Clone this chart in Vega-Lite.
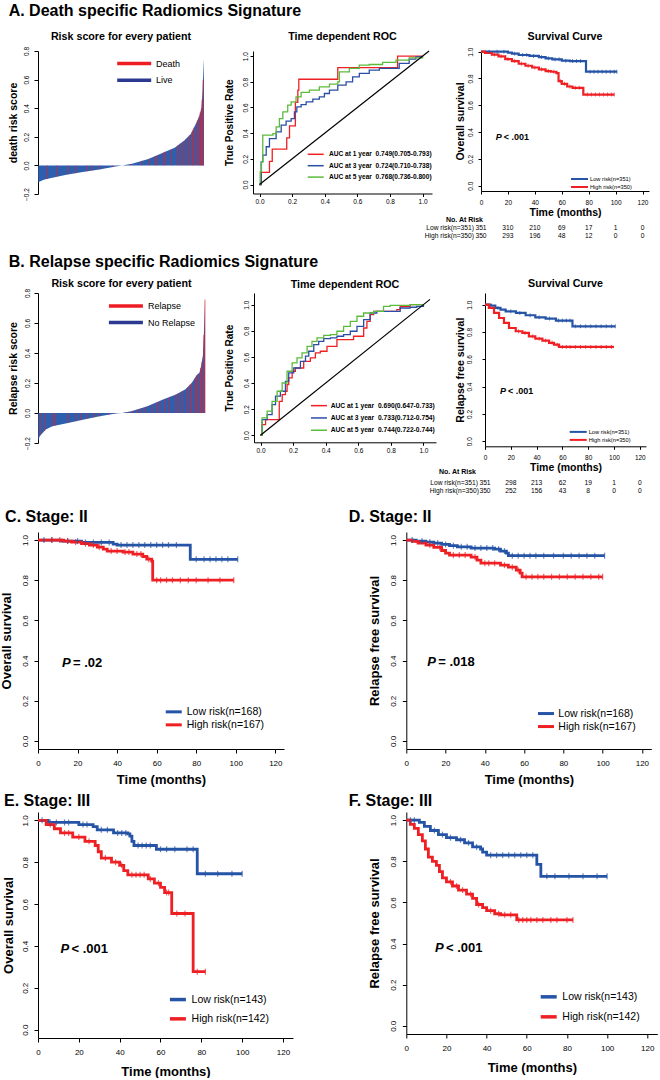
{
  "$schema": "https://vega.github.io/schema/vega-lite/v6.json",
  "padding": {"left": 0, "top": 2, "right": 0, "bottom": 0},
  "config": {
    "font": "Liberation Sans",
    "view": {"stroke": null},
    "axis": {"grid": false, "domainColor": "#000", "tickColor": "#000", "labelColor": "#000", "titleColor": "#000", "labelFont": "Liberation Sans", "titleFont": "Liberation Sans", "titleFontWeight": "bold", "labelFlush": false, "labelOverlap": false, "tickCount": 20},
    "axisY": {"labelAngle": 270, "labelAlign": "center", "labelBaseline": "bottom"},
    "legend": {"labelFont": "Liberation Sans", "labelColor": "#000", "padding": 0, "symbolOpacity": 1},
    "title": {"font": "Liberation Sans", "fontWeight": "bold", "color": "#000"}
  },
  "datasets": {
    "riskA": [{"rank":1,"score":-0.118},{"rank":24,"score":-0.1},{"rank":51,"score":-0.09},{"rank":120,"score":-0.065},{"rank":189,"score":-0.047},{"rank":259,"score":-0.028},{"rank":328,"score":-0.008},{"rank":355,"score":0},{"rank":397,"score":0.012},{"rank":466,"score":0.045},{"rank":535,"score":0.094},{"rank":577,"score":0.124},{"rank":618,"score":0.175},{"rank":646,"score":0.222},{"rank":666,"score":0.29},{"rank":680,"score":0.34},{"rank":690,"score":0.4},{"rank":695,"score":0.52},{"rank":699,"score":0.68},{"rank":701,"score":0.75}],
    "riskAev": [{"rank":40,"score":-0.094,"status":"Death"},{"rank":79,"score":-0.08,"status":"Death"},{"rank":127,"score":-0.063,"status":"Death"},{"rank":160,"score":-0.055,"status":"Death"},{"rank":206,"score":-0.042,"status":"Death"},{"rank":228,"score":-0.036,"status":"Death"},{"rank":260,"score":-0.028,"status":"Death"},{"rank":314,"score":-0.012,"status":"Death"},{"rank":390,"score":0.01,"status":"Death"},{"rank":438,"score":0.032,"status":"Death"},{"rank":470,"score":0.047,"status":"Death"},{"rank":494,"score":0.064,"status":"Death"},{"rank":505,"score":0.072,"status":"Death"},{"rank":531,"score":0.091,"status":"Death"},{"rank":539,"score":0.097,"status":"Death"},{"rank":563,"score":0.114,"status":"Death"},{"rank":590,"score":0.14,"status":"Death"},{"rank":600,"score":0.152,"status":"Death"},{"rank":611,"score":0.166,"status":"Death"},{"rank":625,"score":0.186,"status":"Death"},{"rank":639,"score":0.21,"status":"Death"},{"rank":650,"score":0.235,"status":"Death"},{"rank":655,"score":0.25,"status":"Death"},{"rank":659,"score":0.265,"status":"Death"},{"rank":673,"score":0.315,"status":"Death"},{"rank":680,"score":0.34,"status":"Death"},{"rank":685,"score":0.37,"status":"Death"},{"rank":690,"score":0.4,"status":"Death"},{"rank":693,"score":0.46,"status":"Death"},{"rank":697,"score":0.6,"status":"Death"}],
    "riskB": [{"rank":1,"score":-0.19},{"rank":7,"score":-0.155},{"rank":33,"score":-0.11},{"rank":60,"score":-0.089},{"rank":126,"score":-0.067},{"rank":193,"score":-0.044},{"rank":259,"score":-0.022},{"rank":326,"score":-0.004},{"rank":352,"score":0},{"rank":392,"score":0.011},{"rank":459,"score":0.045},{"rank":525,"score":0.09},{"rank":579,"score":0.124},{"rank":619,"score":0.158},{"rank":645,"score":0.2},{"rank":665,"score":0.25},{"rank":678,"score":0.27},{"rank":685,"score":0.316},{"rank":692,"score":0.384},{"rank":696,"score":0.52},{"rank":701,"score":0.757}],
    "riskBev": [{"rank":9,"score":-0.15,"status":"Relapse"},{"rank":27,"score":-0.12,"status":"Relapse"},{"rank":60,"score":-0.089,"status":"Relapse"},{"rank":73,"score":-0.085,"status":"Relapse"},{"rank":126,"score":-0.067,"status":"Relapse"},{"rank":160,"score":-0.055,"status":"Relapse"},{"rank":180,"score":-0.048,"status":"Relapse"},{"rank":209,"score":-0.039,"status":"Relapse"},{"rank":235,"score":-0.03,"status":"Relapse"},{"rank":259,"score":-0.022,"status":"Relapse"},{"rank":299,"score":-0.011,"status":"Relapse"},{"rank":323,"score":-0.005,"status":"Relapse"},{"rank":366,"score":0.004,"status":"Relapse"},{"rank":386,"score":0.009,"status":"Relapse"},{"rank":399,"score":0.015,"status":"Relapse"},{"rank":419,"score":0.025,"status":"Relapse"},{"rank":432,"score":0.031,"status":"Relapse"},{"rank":452,"score":0.041,"status":"Relapse"},{"rank":479,"score":0.058,"status":"Relapse"},{"rank":499,"score":0.072,"status":"Relapse"},{"rank":512,"score":0.081,"status":"Relapse"},{"rank":532,"score":0.094,"status":"Relapse"},{"rank":552,"score":0.107,"status":"Relapse"},{"rank":579,"score":0.124,"status":"Relapse"},{"rank":589,"score":0.132,"status":"Relapse"},{"rank":605,"score":0.146,"status":"Relapse"},{"rank":625,"score":0.167,"status":"Relapse"},{"rank":638,"score":0.19,"status":"Relapse"},{"rank":645,"score":0.2,"status":"Relapse"},{"rank":658,"score":0.23,"status":"Relapse"},{"rank":665,"score":0.25,"status":"Relapse"},{"rank":672,"score":0.26,"status":"Relapse"},{"rank":682,"score":0.3,"status":"Relapse"},{"rank":688,"score":0.34,"status":"Relapse"},{"rank":696,"score":0.52,"status":"Relapse"},{"rank":701,"score":0.757,"status":"Relapse"}],
    "rocA": [
      {"fpr":0,"tpr":0,"c":"AUC at 1 year\u00a0 0.749(0.705-0.793)"},{"fpr":0.01,"tpr":0.094,"c":"AUC at 1 year\u00a0 0.749(0.705-0.793)"},{"fpr":0.061,"tpr":0.18,"c":"AUC at 1 year\u00a0 0.749(0.705-0.793)"},{"fpr":0.078,"tpr":0.275,"c":"AUC at 1 year\u00a0 0.749(0.705-0.793)"},{"fpr":0.167,"tpr":0.364,"c":"AUC at 1 year\u00a0 0.749(0.705-0.793)"},{"fpr":0.184,"tpr":0.457,"c":"AUC at 1 year\u00a0 0.749(0.705-0.793)"},{"fpr":0.22,"tpr":0.64,"c":"AUC at 1 year\u00a0 0.749(0.705-0.793)"},{"fpr":0.235,"tpr":0.735,"c":"AUC at 1 year\u00a0 0.749(0.705-0.793)"},{"fpr":0.241,"tpr":0.82,"c":"AUC at 1 year\u00a0 0.749(0.705-0.793)"},{"fpr":0.48,"tpr":0.91,"c":"AUC at 1 year\u00a0 0.749(0.705-0.793)"},{"fpr":0.847,"tpr":1,"c":"AUC at 1 year\u00a0 0.749(0.705-0.793)"},{"fpr":1,"tpr":1,"c":"AUC at 1 year\u00a0 0.749(0.705-0.793)"},
      {"fpr":0,"tpr":0,"c":"AUC at 3 year\u00a0 0.724(0.710-0.738)"},{"fpr":0.01,"tpr":0.177,"c":"AUC at 3 year\u00a0 0.724(0.710-0.738)"},{"fpr":0.02,"tpr":0.229,"c":"AUC at 3 year\u00a0 0.724(0.710-0.738)"},{"fpr":0.041,"tpr":0.294,"c":"AUC at 3 year\u00a0 0.724(0.710-0.738)"},{"fpr":0.061,"tpr":0.358,"c":"AUC at 3 year\u00a0 0.724(0.710-0.738)"},{"fpr":0.102,"tpr":0.41,"c":"AUC at 3 year\u00a0 0.724(0.710-0.738)"},{"fpr":0.133,"tpr":0.462,"c":"AUC at 3 year\u00a0 0.724(0.710-0.738)"},{"fpr":0.163,"tpr":0.494,"c":"AUC at 3 year\u00a0 0.724(0.710-0.738)"},{"fpr":0.194,"tpr":0.514,"c":"AUC at 3 year\u00a0 0.724(0.710-0.738)"},{"fpr":0.214,"tpr":0.566,"c":"AUC at 3 year\u00a0 0.724(0.710-0.738)"},{"fpr":0.229,"tpr":0.605,"c":"AUC at 3 year\u00a0 0.724(0.710-0.738)"},{"fpr":0.255,"tpr":0.623,"c":"AUC at 3 year\u00a0 0.724(0.710-0.738)"},{"fpr":0.286,"tpr":0.644,"c":"AUC at 3 year\u00a0 0.724(0.710-0.738)"},{"fpr":0.327,"tpr":0.665,"c":"AUC at 3 year\u00a0 0.724(0.710-0.738)"},{"fpr":0.367,"tpr":0.683,"c":"AUC at 3 year\u00a0 0.724(0.710-0.738)"},{"fpr":0.398,"tpr":0.709,"c":"AUC at 3 year\u00a0 0.724(0.710-0.738)"},{"fpr":0.429,"tpr":0.735,"c":"AUC at 3 year\u00a0 0.724(0.710-0.738)"},{"fpr":0.48,"tpr":0.774,"c":"AUC at 3 year\u00a0 0.724(0.710-0.738)"},{"fpr":0.531,"tpr":0.8,"c":"AUC at 3 year\u00a0 0.724(0.710-0.738)"},{"fpr":0.571,"tpr":0.839,"c":"AUC at 3 year\u00a0 0.724(0.710-0.738)"},{"fpr":0.612,"tpr":0.865,"c":"AUC at 3 year\u00a0 0.724(0.710-0.738)"},{"fpr":0.673,"tpr":0.891,"c":"AUC at 3 year\u00a0 0.724(0.710-0.738)"},{"fpr":0.735,"tpr":0.904,"c":"AUC at 3 year\u00a0 0.724(0.710-0.738)"},{"fpr":0.857,"tpr":0.943,"c":"AUC at 3 year\u00a0 0.724(0.710-0.738)"},{"fpr":0.918,"tpr":0.977,"c":"AUC at 3 year\u00a0 0.724(0.710-0.738)"},{"fpr":0.959,"tpr":0.995,"c":"AUC at 3 year\u00a0 0.724(0.710-0.738)"},{"fpr":1,"tpr":1,"c":"AUC at 3 year\u00a0 0.724(0.710-0.738)"},
      {"fpr":0,"tpr":0,"c":"AUC at 5 year\u00a0 0.768(0.736-0.800)"},{"fpr":0.004,"tpr":0.099,"c":"AUC at 5 year\u00a0 0.768(0.736-0.800)"},{"fpr":0.012,"tpr":0.177,"c":"AUC at 5 year\u00a0 0.768(0.736-0.800)"},{"fpr":0.02,"tpr":0.384,"c":"AUC at 5 year\u00a0 0.768(0.736-0.800)"},{"fpr":0.082,"tpr":0.397,"c":"AUC at 5 year\u00a0 0.768(0.736-0.800)"},{"fpr":0.102,"tpr":0.449,"c":"AUC at 5 year\u00a0 0.768(0.736-0.800)"},{"fpr":0.122,"tpr":0.514,"c":"AUC at 5 year\u00a0 0.768(0.736-0.800)"},{"fpr":0.143,"tpr":0.566,"c":"AUC at 5 year\u00a0 0.768(0.736-0.800)"},{"fpr":0.173,"tpr":0.618,"c":"AUC at 5 year\u00a0 0.768(0.736-0.800)"},{"fpr":0.194,"tpr":0.644,"c":"AUC at 5 year\u00a0 0.768(0.736-0.800)"},{"fpr":0.224,"tpr":0.683,"c":"AUC at 5 year\u00a0 0.768(0.736-0.800)"},{"fpr":0.255,"tpr":0.717,"c":"AUC at 5 year\u00a0 0.768(0.736-0.800)"},{"fpr":0.306,"tpr":0.735,"c":"AUC at 5 year\u00a0 0.768(0.736-0.800)"},{"fpr":0.367,"tpr":0.761,"c":"AUC at 5 year\u00a0 0.768(0.736-0.800)"},{"fpr":0.429,"tpr":0.782,"c":"AUC at 5 year\u00a0 0.768(0.736-0.800)"},{"fpr":0.48,"tpr":0.8,"c":"AUC at 5 year\u00a0 0.768(0.736-0.800)"},{"fpr":0.49,"tpr":0.878,"c":"AUC at 5 year\u00a0 0.768(0.736-0.800)"},{"fpr":0.551,"tpr":0.904,"c":"AUC at 5 year\u00a0 0.768(0.736-0.800)"},{"fpr":0.612,"tpr":0.93,"c":"AUC at 5 year\u00a0 0.768(0.736-0.800)"},{"fpr":0.673,"tpr":0.935,"c":"AUC at 5 year\u00a0 0.768(0.736-0.800)"},{"fpr":0.755,"tpr":0.951,"c":"AUC at 5 year\u00a0 0.768(0.736-0.800)"},{"fpr":0.837,"tpr":0.969,"c":"AUC at 5 year\u00a0 0.768(0.736-0.800)"},{"fpr":0.918,"tpr":0.987,"c":"AUC at 5 year\u00a0 0.768(0.736-0.800)"},{"fpr":1,"tpr":1,"c":"AUC at 5 year\u00a0 0.768(0.736-0.800)"}
    ],
    "rocB": [
      {"fpr":0,"tpr":0,"c":"AUC at 1 year\u00a0 0.690(0.647-0.733)"},{"fpr":0.01,"tpr":0.082,"c":"AUC at 1 year\u00a0 0.690(0.647-0.733)"},{"fpr":0.031,"tpr":0.12,"c":"AUC at 1 year\u00a0 0.690(0.647-0.733)"},{"fpr":0.115,"tpr":0.26,"c":"AUC at 1 year\u00a0 0.690(0.647-0.733)"},{"fpr":0.133,"tpr":0.311,"c":"AUC at 1 year\u00a0 0.690(0.647-0.733)"},{"fpr":0.153,"tpr":0.337,"c":"AUC at 1 year\u00a0 0.690(0.647-0.733)"},{"fpr":0.163,"tpr":0.388,"c":"AUC at 1 year\u00a0 0.690(0.647-0.733)"},{"fpr":0.173,"tpr":0.439,"c":"AUC at 1 year\u00a0 0.690(0.647-0.733)"},{"fpr":0.194,"tpr":0.49,"c":"AUC at 1 year\u00a0 0.690(0.647-0.733)"},{"fpr":0.214,"tpr":0.515,"c":"AUC at 1 year\u00a0 0.690(0.647-0.733)"},{"fpr":0.265,"tpr":0.566,"c":"AUC at 1 year\u00a0 0.690(0.647-0.733)"},{"fpr":0.306,"tpr":0.592,"c":"AUC at 1 year\u00a0 0.690(0.647-0.733)"},{"fpr":0.337,"tpr":0.63,"c":"AUC at 1 year\u00a0 0.690(0.647-0.733)"},{"fpr":0.367,"tpr":0.643,"c":"AUC at 1 year\u00a0 0.690(0.647-0.733)"},{"fpr":0.408,"tpr":0.681,"c":"AUC at 1 year\u00a0 0.690(0.647-0.733)"},{"fpr":0.469,"tpr":0.732,"c":"AUC at 1 year\u00a0 0.690(0.647-0.733)"},{"fpr":0.571,"tpr":0.758,"c":"AUC at 1 year\u00a0 0.690(0.647-0.733)"},{"fpr":0.633,"tpr":0.821,"c":"AUC at 1 year\u00a0 0.690(0.647-0.733)"},{"fpr":0.653,"tpr":0.872,"c":"AUC at 1 year\u00a0 0.690(0.647-0.733)"},{"fpr":0.673,"tpr":0.923,"c":"AUC at 1 year\u00a0 0.690(0.647-0.733)"},{"fpr":0.694,"tpr":0.949,"c":"AUC at 1 year\u00a0 0.690(0.647-0.733)"},{"fpr":0.837,"tpr":0.962,"c":"AUC at 1 year\u00a0 0.690(0.647-0.733)"},{"fpr":0.857,"tpr":0.987,"c":"AUC at 1 year\u00a0 0.690(0.647-0.733)"},{"fpr":0.918,"tpr":1,"c":"AUC at 1 year\u00a0 0.690(0.647-0.733)"},{"fpr":1,"tpr":1,"c":"AUC at 1 year\u00a0 0.690(0.647-0.733)"},
      {"fpr":0,"tpr":0,"c":"AUC at 3 year\u00a0 0.733(0.712-0.754)"},{"fpr":0.01,"tpr":0.12,"c":"AUC at 3 year\u00a0 0.733(0.712-0.754)"},{"fpr":0.041,"tpr":0.158,"c":"AUC at 3 year\u00a0 0.733(0.712-0.754)"},{"fpr":0.071,"tpr":0.235,"c":"AUC at 3 year\u00a0 0.733(0.712-0.754)"},{"fpr":0.092,"tpr":0.3,"c":"AUC at 3 year\u00a0 0.733(0.712-0.754)"},{"fpr":0.122,"tpr":0.337,"c":"AUC at 3 year\u00a0 0.733(0.712-0.754)"},{"fpr":0.153,"tpr":0.413,"c":"AUC at 3 year\u00a0 0.733(0.712-0.754)"},{"fpr":0.173,"tpr":0.477,"c":"AUC at 3 year\u00a0 0.733(0.712-0.754)"},{"fpr":0.204,"tpr":0.515,"c":"AUC at 3 year\u00a0 0.733(0.712-0.754)"},{"fpr":0.245,"tpr":0.566,"c":"AUC at 3 year\u00a0 0.733(0.712-0.754)"},{"fpr":0.276,"tpr":0.605,"c":"AUC at 3 year\u00a0 0.733(0.712-0.754)"},{"fpr":0.296,"tpr":0.643,"c":"AUC at 3 year\u00a0 0.733(0.712-0.754)"},{"fpr":0.327,"tpr":0.694,"c":"AUC at 3 year\u00a0 0.733(0.712-0.754)"},{"fpr":0.357,"tpr":0.719,"c":"AUC at 3 year\u00a0 0.733(0.712-0.754)"},{"fpr":0.388,"tpr":0.74,"c":"AUC at 3 year\u00a0 0.733(0.712-0.754)"},{"fpr":0.429,"tpr":0.745,"c":"AUC at 3 year\u00a0 0.733(0.712-0.754)"},{"fpr":0.469,"tpr":0.758,"c":"AUC at 3 year\u00a0 0.733(0.712-0.754)"},{"fpr":0.51,"tpr":0.77,"c":"AUC at 3 year\u00a0 0.733(0.712-0.754)"},{"fpr":0.551,"tpr":0.796,"c":"AUC at 3 year\u00a0 0.733(0.712-0.754)"},{"fpr":0.592,"tpr":0.834,"c":"AUC at 3 year\u00a0 0.733(0.712-0.754)"},{"fpr":0.633,"tpr":0.885,"c":"AUC at 3 year\u00a0 0.733(0.712-0.754)"},{"fpr":0.673,"tpr":0.936,"c":"AUC at 3 year\u00a0 0.733(0.712-0.754)"},{"fpr":0.714,"tpr":0.949,"c":"AUC at 3 year\u00a0 0.733(0.712-0.754)"},{"fpr":0.857,"tpr":0.974,"c":"AUC at 3 year\u00a0 0.733(0.712-0.754)"},{"fpr":0.918,"tpr":0.98,"c":"AUC at 3 year\u00a0 0.733(0.712-0.754)"},{"fpr":0.959,"tpr":0.987,"c":"AUC at 3 year\u00a0 0.733(0.712-0.754)"},{"fpr":1,"tpr":1,"c":"AUC at 3 year\u00a0 0.733(0.712-0.754)"},
      {"fpr":0,"tpr":0,"c":"AUC at 5 year\u00a0 0.744(0.722-0.744)"},{"fpr":0.01,"tpr":0.133,"c":"AUC at 5 year\u00a0 0.744(0.722-0.744)"},{"fpr":0.041,"tpr":0.184,"c":"AUC at 5 year\u00a0 0.744(0.722-0.744)"},{"fpr":0.071,"tpr":0.26,"c":"AUC at 5 year\u00a0 0.744(0.722-0.744)"},{"fpr":0.102,"tpr":0.337,"c":"AUC at 5 year\u00a0 0.744(0.722-0.744)"},{"fpr":0.133,"tpr":0.4,"c":"AUC at 5 year\u00a0 0.744(0.722-0.744)"},{"fpr":0.163,"tpr":0.49,"c":"AUC at 5 year\u00a0 0.744(0.722-0.744)"},{"fpr":0.194,"tpr":0.554,"c":"AUC at 5 year\u00a0 0.744(0.722-0.744)"},{"fpr":0.224,"tpr":0.592,"c":"AUC at 5 year\u00a0 0.744(0.722-0.744)"},{"fpr":0.255,"tpr":0.63,"c":"AUC at 5 year\u00a0 0.744(0.722-0.744)"},{"fpr":0.286,"tpr":0.681,"c":"AUC at 5 year\u00a0 0.744(0.722-0.744)"},{"fpr":0.316,"tpr":0.719,"c":"AUC at 5 year\u00a0 0.744(0.722-0.744)"},{"fpr":0.347,"tpr":0.745,"c":"AUC at 5 year\u00a0 0.744(0.722-0.744)"},{"fpr":0.388,"tpr":0.765,"c":"AUC at 5 year\u00a0 0.744(0.722-0.744)"},{"fpr":0.429,"tpr":0.77,"c":"AUC at 5 year\u00a0 0.744(0.722-0.744)"},{"fpr":0.469,"tpr":0.796,"c":"AUC at 5 year\u00a0 0.744(0.722-0.744)"},{"fpr":0.51,"tpr":0.834,"c":"AUC at 5 year\u00a0 0.744(0.722-0.744)"},{"fpr":0.551,"tpr":0.872,"c":"AUC at 5 year\u00a0 0.744(0.722-0.744)"},{"fpr":0.592,"tpr":0.911,"c":"AUC at 5 year\u00a0 0.744(0.722-0.744)"},{"fpr":0.633,"tpr":0.936,"c":"AUC at 5 year\u00a0 0.744(0.722-0.744)"},{"fpr":0.694,"tpr":0.949,"c":"AUC at 5 year\u00a0 0.744(0.722-0.744)"},{"fpr":0.755,"tpr":0.987,"c":"AUC at 5 year\u00a0 0.744(0.722-0.744)"},{"fpr":0.796,"tpr":0.995,"c":"AUC at 5 year\u00a0 0.744(0.722-0.744)"},{"fpr":0.918,"tpr":1,"c":"AUC at 5 year\u00a0 0.744(0.722-0.744)"},{"fpr":1,"tpr":1,"c":"AUC at 5 year\u00a0 0.744(0.722-0.744)"}
    ],
    "kmA": [
      {"t":0,"s":1,"g":"Low risk(n=351)"},{"t":20,"s":0.993,"g":"Low risk(n=351)"},{"t":23,"s":0.985,"g":"Low risk(n=351)"},{"t":28,"s":0.975,"g":"Low risk(n=351)"},{"t":36,"s":0.968,"g":"Low risk(n=351)"},{"t":43,"s":0.96,"g":"Low risk(n=351)"},{"t":48,"s":0.95,"g":"Low risk(n=351)"},{"t":53,"s":0.943,"g":"Low risk(n=351)"},{"t":60,"s":0.933,"g":"Low risk(n=351)"},{"t":66,"s":0.93,"g":"Low risk(n=351)"},{"t":78,"s":0.851,"g":"Low risk(n=351)"},{"t":101,"s":0.851,"g":"Low risk(n=351)"},
      {"t":0,"s":1,"g":"High risk(n=350)"},{"t":3,"s":0.99,"g":"High risk(n=350)"},{"t":8,"s":0.978,"g":"High risk(n=350)"},{"t":13,"s":0.965,"g":"High risk(n=350)"},{"t":18,"s":0.945,"g":"High risk(n=350)"},{"t":23,"s":0.93,"g":"High risk(n=350)"},{"t":28,"s":0.91,"g":"High risk(n=350)"},{"t":33,"s":0.895,"g":"High risk(n=350)"},{"t":38,"s":0.882,"g":"High risk(n=350)"},{"t":43,"s":0.868,"g":"High risk(n=350)"},{"t":48,"s":0.855,"g":"High risk(n=350)"},{"t":52,"s":0.85,"g":"High risk(n=350)"},{"t":56,"s":0.84,"g":"High risk(n=350)"},{"t":57.6,"s":0.78,"g":"High risk(n=350)"},{"t":60,"s":0.76,"g":"High risk(n=350)"},{"t":64,"s":0.74,"g":"High risk(n=350)"},{"t":68,"s":0.73,"g":"High risk(n=350)"},{"t":76,"s":0.68,"g":"High risk(n=350)"},{"t":99,"s":0.68,"g":"High risk(n=350)"}
    ],
    "kmAc": [
      {"t":6,"s":1,"g":"Low risk(n=351)"},{"t":12,"s":1,"g":"Low risk(n=351)"},{"t":17,"s":1,"g":"Low risk(n=351)"},{"t":25,"s":0.985,"g":"Low risk(n=351)"},{"t":31,"s":0.975,"g":"Low risk(n=351)"},{"t":34,"s":0.975,"g":"Low risk(n=351)"},{"t":39,"s":0.968,"g":"Low risk(n=351)"},{"t":45,"s":0.96,"g":"Low risk(n=351)"},{"t":50,"s":0.95,"g":"Low risk(n=351)"},{"t":55,"s":0.943,"g":"Low risk(n=351)"},{"t":58,"s":0.943,"g":"Low risk(n=351)"},{"t":63,"s":0.933,"g":"Low risk(n=351)"},{"t":68,"s":0.93,"g":"Low risk(n=351)"},{"t":71,"s":0.93,"g":"Low risk(n=351)"},{"t":74,"s":0.93,"g":"Low risk(n=351)"},{"t":81,"s":0.851,"g":"Low risk(n=351)"},{"t":84,"s":0.851,"g":"Low risk(n=351)"},{"t":87,"s":0.851,"g":"Low risk(n=351)"},{"t":90,"s":0.851,"g":"Low risk(n=351)"},{"t":93,"s":0.851,"g":"Low risk(n=351)"},{"t":96,"s":0.851,"g":"Low risk(n=351)"},{"t":99,"s":0.851,"g":"Low risk(n=351)"},{"t":101,"s":0.851,"g":"Low risk(n=351)"},
      {"t":10,"s":0.978,"g":"High risk(n=350)"},{"t":15,"s":0.965,"g":"High risk(n=350)"},{"t":20,"s":0.945,"g":"High risk(n=350)"},{"t":25,"s":0.93,"g":"High risk(n=350)"},{"t":30,"s":0.91,"g":"High risk(n=350)"},{"t":35,"s":0.895,"g":"High risk(n=350)"},{"t":40,"s":0.882,"g":"High risk(n=350)"},{"t":45,"s":0.868,"g":"High risk(n=350)"},{"t":50,"s":0.855,"g":"High risk(n=350)"},{"t":54,"s":0.85,"g":"High risk(n=350)"},{"t":59,"s":0.78,"g":"High risk(n=350)"},{"t":62,"s":0.76,"g":"High risk(n=350)"},{"t":66,"s":0.74,"g":"High risk(n=350)"},{"t":70,"s":0.73,"g":"High risk(n=350)"},{"t":73,"s":0.73,"g":"High risk(n=350)"},{"t":79,"s":0.68,"g":"High risk(n=350)"},{"t":82,"s":0.68,"g":"High risk(n=350)"},{"t":85,"s":0.68,"g":"High risk(n=350)"},{"t":88,"s":0.68,"g":"High risk(n=350)"},{"t":91,"s":0.68,"g":"High risk(n=350)"},{"t":94,"s":0.68,"g":"High risk(n=350)"},{"t":97,"s":0.68,"g":"High risk(n=350)"},{"t":99,"s":0.68,"g":"High risk(n=350)"}
    ],
    "kmB": [
      {"t":0,"s":1,"g":"Low risk(n=351)"},{"t":4.4,"s":0.993,"g":"Low risk(n=351)"},{"t":8,"s":0.976,"g":"Low risk(n=351)"},{"t":12,"s":0.963,"g":"Low risk(n=351)"},{"t":16,"s":0.951,"g":"Low risk(n=351)"},{"t":24,"s":0.939,"g":"Low risk(n=351)"},{"t":31.5,"s":0.922,"g":"Low risk(n=351)"},{"t":39,"s":0.907,"g":"Low risk(n=351)"},{"t":47,"s":0.898,"g":"Low risk(n=351)"},{"t":55,"s":0.883,"g":"Low risk(n=351)"},{"t":67.8,"s":0.841,"g":"Low risk(n=351)"},{"t":101,"s":0.841,"g":"Low risk(n=351)"},
      {"t":0,"s":1,"g":"High risk(n=350)"},{"t":3,"s":0.976,"g":"High risk(n=350)"},{"t":7,"s":0.939,"g":"High risk(n=350)"},{"t":10.9,"s":0.902,"g":"High risk(n=350)"},{"t":14.7,"s":0.866,"g":"High risk(n=350)"},{"t":18.6,"s":0.829,"g":"High risk(n=350)"},{"t":23.8,"s":0.805,"g":"High risk(n=350)"},{"t":29,"s":0.793,"g":"High risk(n=350)"},{"t":34,"s":0.768,"g":"High risk(n=350)"},{"t":39,"s":0.751,"g":"High risk(n=350)"},{"t":44.5,"s":0.737,"g":"High risk(n=350)"},{"t":49.7,"s":0.72,"g":"High risk(n=350)"},{"t":53.5,"s":0.707,"g":"High risk(n=350)"},{"t":57.4,"s":0.69,"g":"High risk(n=350)"},{"t":100,"s":0.69,"g":"High risk(n=350)"}
    ],
    "kmBc": [
      {"t":10,"s":0.976,"g":"Low risk(n=351)"},{"t":20,"s":0.951,"g":"Low risk(n=351)"},{"t":27,"s":0.939,"g":"Low risk(n=351)"},{"t":35,"s":0.922,"g":"Low risk(n=351)"},{"t":42,"s":0.907,"g":"Low risk(n=351)"},{"t":50,"s":0.898,"g":"Low risk(n=351)"},{"t":57,"s":0.883,"g":"Low risk(n=351)"},{"t":60,"s":0.883,"g":"Low risk(n=351)"},{"t":63,"s":0.883,"g":"Low risk(n=351)"},{"t":66,"s":0.883,"g":"Low risk(n=351)"},{"t":70,"s":0.841,"g":"Low risk(n=351)"},{"t":74,"s":0.841,"g":"Low risk(n=351)"},{"t":78,"s":0.841,"g":"Low risk(n=351)"},{"t":82,"s":0.841,"g":"Low risk(n=351)"},{"t":86,"s":0.841,"g":"Low risk(n=351)"},{"t":90,"s":0.841,"g":"Low risk(n=351)"},{"t":94,"s":0.841,"g":"Low risk(n=351)"},{"t":98,"s":0.841,"g":"Low risk(n=351)"},{"t":101,"s":0.841,"g":"Low risk(n=351)"},
      {"t":26,"s":0.805,"g":"High risk(n=350)"},{"t":31,"s":0.793,"g":"High risk(n=350)"},{"t":37,"s":0.768,"g":"High risk(n=350)"},{"t":42,"s":0.751,"g":"High risk(n=350)"},{"t":47,"s":0.737,"g":"High risk(n=350)"},{"t":52,"s":0.72,"g":"High risk(n=350)"},{"t":56,"s":0.707,"g":"High risk(n=350)"},{"t":60,"s":0.69,"g":"High risk(n=350)"},{"t":63,"s":0.69,"g":"High risk(n=350)"},{"t":66,"s":0.69,"g":"High risk(n=350)"},{"t":70,"s":0.69,"g":"High risk(n=350)"},{"t":74,"s":0.69,"g":"High risk(n=350)"},{"t":78,"s":0.69,"g":"High risk(n=350)"},{"t":82,"s":0.69,"g":"High risk(n=350)"},{"t":86,"s":0.69,"g":"High risk(n=350)"},{"t":90,"s":0.69,"g":"High risk(n=350)"},{"t":94,"s":0.69,"g":"High risk(n=350)"},{"t":98,"s":0.69,"g":"High risk(n=350)"}
    ],
    "kmC": [
      {"t":0,"s":1,"g":"Low risk(n=168)"},{"t":12,"s":0.995,"g":"Low risk(n=168)"},{"t":22,"s":0.988,"g":"Low risk(n=168)"},{"t":38,"s":0.98,"g":"Low risk(n=168)"},{"t":40,"s":0.975,"g":"Low risk(n=168)"},{"t":77,"s":0.904,"g":"Low risk(n=168)"},{"t":101,"s":0.904,"g":"Low risk(n=168)"},
      {"t":0,"s":1,"g":"High risk(n=167)"},{"t":13,"s":0.995,"g":"High risk(n=167)"},{"t":17,"s":0.99,"g":"High risk(n=167)"},{"t":22,"s":0.982,"g":"High risk(n=167)"},{"t":26,"s":0.975,"g":"High risk(n=167)"},{"t":30,"s":0.965,"g":"High risk(n=167)"},{"t":33,"s":0.955,"g":"High risk(n=167)"},{"t":35,"s":0.945,"g":"High risk(n=167)"},{"t":43,"s":0.94,"g":"High risk(n=167)"},{"t":48,"s":0.93,"g":"High risk(n=167)"},{"t":53,"s":0.918,"g":"High risk(n=167)"},{"t":55,"s":0.905,"g":"High risk(n=167)"},{"t":57.5,"s":0.895,"g":"High risk(n=167)"},{"t":58,"s":0.8,"g":"High risk(n=167)"},{"t":99,"s":0.8,"g":"High risk(n=167)"}
    ],
    "kmCc": [
      {"t":3,"s":1,"g":"Low risk(n=168)"},{"t":7,"s":1,"g":"Low risk(n=168)"},{"t":15,"s":0.995,"g":"Low risk(n=168)"},{"t":20,"s":0.995,"g":"Low risk(n=168)"},{"t":24,"s":0.988,"g":"Low risk(n=168)"},{"t":28,"s":0.988,"g":"Low risk(n=168)"},{"t":32,"s":0.988,"g":"Low risk(n=168)"},{"t":36,"s":0.988,"g":"Low risk(n=168)"},{"t":42,"s":0.975,"g":"Low risk(n=168)"},{"t":45,"s":0.975,"g":"Low risk(n=168)"},{"t":48,"s":0.975,"g":"Low risk(n=168)"},{"t":51,"s":0.975,"g":"Low risk(n=168)"},{"t":54,"s":0.975,"g":"Low risk(n=168)"},{"t":57,"s":0.975,"g":"Low risk(n=168)"},{"t":60,"s":0.975,"g":"Low risk(n=168)"},{"t":63,"s":0.975,"g":"Low risk(n=168)"},{"t":66,"s":0.975,"g":"Low risk(n=168)"},{"t":70,"s":0.975,"g":"Low risk(n=168)"},{"t":80,"s":0.904,"g":"Low risk(n=168)"},{"t":84,"s":0.904,"g":"Low risk(n=168)"},{"t":87,"s":0.904,"g":"Low risk(n=168)"},{"t":90,"s":0.904,"g":"Low risk(n=168)"},{"t":93,"s":0.904,"g":"Low risk(n=168)"},{"t":96,"s":0.904,"g":"Low risk(n=168)"},{"t":101,"s":0.904,"g":"Low risk(n=168)"},
      {"t":7,"s":1,"g":"High risk(n=167)"},{"t":11,"s":1,"g":"High risk(n=167)"},{"t":15,"s":0.995,"g":"High risk(n=167)"},{"t":19,"s":0.99,"g":"High risk(n=167)"},{"t":24,"s":0.982,"g":"High risk(n=167)"},{"t":28,"s":0.975,"g":"High risk(n=167)"},{"t":31,"s":0.965,"g":"High risk(n=167)"},{"t":37,"s":0.945,"g":"High risk(n=167)"},{"t":40,"s":0.945,"g":"High risk(n=167)"},{"t":44,"s":0.94,"g":"High risk(n=167)"},{"t":46,"s":0.94,"g":"High risk(n=167)"},{"t":50,"s":0.93,"g":"High risk(n=167)"},{"t":52,"s":0.93,"g":"High risk(n=167)"},{"t":56,"s":0.905,"g":"High risk(n=167)"},{"t":60,"s":0.8,"g":"High risk(n=167)"},{"t":62,"s":0.8,"g":"High risk(n=167)"},{"t":65,"s":0.8,"g":"High risk(n=167)"},{"t":68,"s":0.8,"g":"High risk(n=167)"},{"t":72,"s":0.8,"g":"High risk(n=167)"},{"t":76,"s":0.8,"g":"High risk(n=167)"},{"t":80,"s":0.8,"g":"High risk(n=167)"},{"t":86,"s":0.8,"g":"High risk(n=167)"},{"t":92,"s":0.8,"g":"High risk(n=167)"},{"t":99,"s":0.8,"g":"High risk(n=167)"}
    ],
    "kmD": [
      {"t":0,"s":1,"g":"Low risk(n=168)"},{"t":5,"s":0.995,"g":"Low risk(n=168)"},{"t":10,"s":0.99,"g":"Low risk(n=168)"},{"t":14,"s":0.985,"g":"Low risk(n=168)"},{"t":18,"s":0.978,"g":"Low risk(n=168)"},{"t":22,"s":0.972,"g":"Low risk(n=168)"},{"t":26,"s":0.966,"g":"Low risk(n=168)"},{"t":33,"s":0.96,"g":"Low risk(n=168)"},{"t":45,"s":0.955,"g":"Low risk(n=168)"},{"t":48,"s":0.945,"g":"Low risk(n=168)"},{"t":51,"s":0.935,"g":"Low risk(n=168)"},{"t":52,"s":0.922,"g":"Low risk(n=168)"},{"t":101,"s":0.922,"g":"Low risk(n=168)"},
      {"t":0,"s":1,"g":"High risk(n=167)"},{"t":3,"s":0.993,"g":"High risk(n=167)"},{"t":6,"s":0.985,"g":"High risk(n=167)"},{"t":10,"s":0.975,"g":"High risk(n=167)"},{"t":14,"s":0.963,"g":"High risk(n=167)"},{"t":18,"s":0.948,"g":"High risk(n=167)"},{"t":20,"s":0.935,"g":"High risk(n=167)"},{"t":22,"s":0.925,"g":"High risk(n=167)"},{"t":33,"s":0.915,"g":"High risk(n=167)"},{"t":36,"s":0.9,"g":"High risk(n=167)"},{"t":38,"s":0.885,"g":"High risk(n=167)"},{"t":48,"s":0.875,"g":"High risk(n=167)"},{"t":52,"s":0.865,"g":"High risk(n=167)"},{"t":56,"s":0.85,"g":"High risk(n=167)"},{"t":58,"s":0.835,"g":"High risk(n=167)"},{"t":59,"s":0.817,"g":"High risk(n=167)"},{"t":100,"s":0.817,"g":"High risk(n=167)"}
    ],
    "kmDc": [
      {"t":3,"s":1,"g":"Low risk(n=168)"},{"t":8,"s":0.995,"g":"Low risk(n=168)"},{"t":12,"s":0.99,"g":"Low risk(n=168)"},{"t":16,"s":0.985,"g":"Low risk(n=168)"},{"t":20,"s":0.978,"g":"Low risk(n=168)"},{"t":24,"s":0.972,"g":"Low risk(n=168)"},{"t":28,"s":0.966,"g":"Low risk(n=168)"},{"t":31,"s":0.966,"g":"Low risk(n=168)"},{"t":35,"s":0.96,"g":"Low risk(n=168)"},{"t":38,"s":0.96,"g":"Low risk(n=168)"},{"t":41,"s":0.96,"g":"Low risk(n=168)"},{"t":44,"s":0.96,"g":"Low risk(n=168)"},{"t":47,"s":0.955,"g":"Low risk(n=168)"},{"t":50,"s":0.945,"g":"Low risk(n=168)"},{"t":54,"s":0.922,"g":"Low risk(n=168)"},{"t":57,"s":0.922,"g":"Low risk(n=168)"},{"t":60,"s":0.922,"g":"Low risk(n=168)"},{"t":63,"s":0.922,"g":"Low risk(n=168)"},{"t":66,"s":0.922,"g":"Low risk(n=168)"},{"t":70,"s":0.922,"g":"Low risk(n=168)"},{"t":75,"s":0.922,"g":"Low risk(n=168)"},{"t":80,"s":0.922,"g":"Low risk(n=168)"},{"t":84,"s":0.922,"g":"Low risk(n=168)"},{"t":88,"s":0.922,"g":"Low risk(n=168)"},{"t":92,"s":0.922,"g":"Low risk(n=168)"},{"t":96,"s":0.922,"g":"Low risk(n=168)"},{"t":101,"s":0.922,"g":"Low risk(n=168)"},
      {"t":12,"s":0.975,"g":"High risk(n=167)"},{"t":17,"s":0.963,"g":"High risk(n=167)"},{"t":24,"s":0.925,"g":"High risk(n=167)"},{"t":27,"s":0.925,"g":"High risk(n=167)"},{"t":30,"s":0.925,"g":"High risk(n=167)"},{"t":35,"s":0.915,"g":"High risk(n=167)"},{"t":40,"s":0.885,"g":"High risk(n=167)"},{"t":42,"s":0.885,"g":"High risk(n=167)"},{"t":45,"s":0.885,"g":"High risk(n=167)"},{"t":50,"s":0.875,"g":"High risk(n=167)"},{"t":54,"s":0.865,"g":"High risk(n=167)"},{"t":57,"s":0.85,"g":"High risk(n=167)"},{"t":61,"s":0.817,"g":"High risk(n=167)"},{"t":64,"s":0.817,"g":"High risk(n=167)"},{"t":67,"s":0.817,"g":"High risk(n=167)"},{"t":70,"s":0.817,"g":"High risk(n=167)"},{"t":74,"s":0.817,"g":"High risk(n=167)"},{"t":78,"s":0.817,"g":"High risk(n=167)"},{"t":82,"s":0.817,"g":"High risk(n=167)"},{"t":86,"s":0.817,"g":"High risk(n=167)"},{"t":90,"s":0.817,"g":"High risk(n=167)"},{"t":94,"s":0.817,"g":"High risk(n=167)"},{"t":98,"s":0.817,"g":"High risk(n=167)"},{"t":100,"s":0.817,"g":"High risk(n=167)"}
    ],
    "kmE": [
      {"t":0,"s":1,"g":"Low risk(n=143)"},{"t":5,"s":0.99,"g":"Low risk(n=143)"},{"t":20,"s":0.98,"g":"Low risk(n=143)"},{"t":27,"s":0.97,"g":"Low risk(n=143)"},{"t":29,"s":0.955,"g":"Low risk(n=143)"},{"t":37,"s":0.94,"g":"Low risk(n=143)"},{"t":44,"s":0.935,"g":"Low risk(n=143)"},{"t":45,"s":0.925,"g":"Low risk(n=143)"},{"t":46,"s":0.9,"g":"Low risk(n=143)"},{"t":47,"s":0.88,"g":"Low risk(n=143)"},{"t":58,"s":0.862,"g":"Low risk(n=143)"},{"t":78,"s":0.745,"g":"Low risk(n=143)"},{"t":100,"s":0.745,"g":"Low risk(n=143)"},
      {"t":0,"s":1,"g":"High risk(n=142)"},{"t":4,"s":0.98,"g":"High risk(n=142)"},{"t":8,"s":0.96,"g":"High risk(n=142)"},{"t":11,"s":0.94,"g":"High risk(n=142)"},{"t":17,"s":0.92,"g":"High risk(n=142)"},{"t":23,"s":0.9,"g":"High risk(n=142)"},{"t":28,"s":0.88,"g":"High risk(n=142)"},{"t":29.5,"s":0.85,"g":"High risk(n=142)"},{"t":31,"s":0.82,"g":"High risk(n=142)"},{"t":36,"s":0.8,"g":"High risk(n=142)"},{"t":40,"s":0.785,"g":"High risk(n=142)"},{"t":42,"s":0.76,"g":"High risk(n=142)"},{"t":44,"s":0.74,"g":"High risk(n=142)"},{"t":54,"s":0.72,"g":"High risk(n=142)"},{"t":57,"s":0.7,"g":"High risk(n=142)"},{"t":60,"s":0.68,"g":"High risk(n=142)"},{"t":62,"s":0.655,"g":"High risk(n=142)"},{"t":65.5,"s":0.555,"g":"High risk(n=142)"},{"t":76,"s":0.277,"g":"High risk(n=142)"},{"t":82,"s":0.277,"g":"High risk(n=142)"}
    ],
    "kmEc": [
      {"t":2,"s":1,"g":"Low risk(n=143)"},{"t":6,"s":0.99,"g":"Low risk(n=143)"},{"t":9,"s":0.99,"g":"Low risk(n=143)"},{"t":13,"s":0.99,"g":"Low risk(n=143)"},{"t":15,"s":0.99,"g":"Low risk(n=143)"},{"t":22,"s":0.98,"g":"Low risk(n=143)"},{"t":24,"s":0.98,"g":"Low risk(n=143)"},{"t":31,"s":0.955,"g":"Low risk(n=143)"},{"t":34,"s":0.955,"g":"Low risk(n=143)"},{"t":39,"s":0.94,"g":"Low risk(n=143)"},{"t":41,"s":0.94,"g":"Low risk(n=143)"},{"t":43,"s":0.94,"g":"Low risk(n=143)"},{"t":49,"s":0.88,"g":"Low risk(n=143)"},{"t":51,"s":0.88,"g":"Low risk(n=143)"},{"t":53,"s":0.88,"g":"Low risk(n=143)"},{"t":55,"s":0.88,"g":"Low risk(n=143)"},{"t":60,"s":0.862,"g":"Low risk(n=143)"},{"t":63,"s":0.862,"g":"Low risk(n=143)"},{"t":67,"s":0.862,"g":"Low risk(n=143)"},{"t":73,"s":0.862,"g":"Low risk(n=143)"},{"t":76,"s":0.862,"g":"Low risk(n=143)"},{"t":82,"s":0.745,"g":"Low risk(n=143)"},{"t":88,"s":0.745,"g":"Low risk(n=143)"},{"t":95,"s":0.745,"g":"Low risk(n=143)"},{"t":100,"s":0.745,"g":"Low risk(n=143)"},
      {"t":6,"s":0.98,"g":"High risk(n=142)"},{"t":13,"s":0.94,"g":"High risk(n=142)"},{"t":15,"s":0.94,"g":"High risk(n=142)"},{"t":20,"s":0.92,"g":"High risk(n=142)"},{"t":25,"s":0.9,"g":"High risk(n=142)"},{"t":33,"s":0.82,"g":"High risk(n=142)"},{"t":38,"s":0.8,"g":"High risk(n=142)"},{"t":41,"s":0.785,"g":"High risk(n=142)"},{"t":46,"s":0.74,"g":"High risk(n=142)"},{"t":48,"s":0.74,"g":"High risk(n=142)"},{"t":50,"s":0.74,"g":"High risk(n=142)"},{"t":52,"s":0.74,"g":"High risk(n=142)"},{"t":55,"s":0.72,"g":"High risk(n=142)"},{"t":59,"s":0.7,"g":"High risk(n=142)"},{"t":63,"s":0.655,"g":"High risk(n=142)"},{"t":64,"s":0.655,"g":"High risk(n=142)"},{"t":68,"s":0.555,"g":"High risk(n=142)"},{"t":72,"s":0.555,"g":"High risk(n=142)"},{"t":78,"s":0.277,"g":"High risk(n=142)"},{"t":82,"s":0.277,"g":"High risk(n=142)"}
    ],
    "kmF": [
      {"t":0,"s":1,"g":"Low risk(n=143)"},{"t":6.5,"s":0.99,"g":"Low risk(n=143)"},{"t":9,"s":0.97,"g":"Low risk(n=143)"},{"t":12,"s":0.95,"g":"Low risk(n=143)"},{"t":16,"s":0.93,"g":"Low risk(n=143)"},{"t":20,"s":0.915,"g":"Low risk(n=143)"},{"t":25,"s":0.905,"g":"Low risk(n=143)"},{"t":29,"s":0.89,"g":"Low risk(n=143)"},{"t":33,"s":0.87,"g":"Low risk(n=143)"},{"t":37,"s":0.86,"g":"Low risk(n=143)"},{"t":38,"s":0.845,"g":"Low risk(n=143)"},{"t":40,"s":0.83,"g":"Low risk(n=143)"},{"t":65,"s":0.785,"g":"Low risk(n=143)"},{"t":67,"s":0.727,"g":"Low risk(n=143)"},{"t":100,"s":0.727,"g":"Low risk(n=143)"},
      {"t":0,"s":1,"g":"High risk(n=142)"},{"t":2,"s":0.98,"g":"High risk(n=142)"},{"t":4,"s":0.96,"g":"High risk(n=142)"},{"t":6,"s":0.93,"g":"High risk(n=142)"},{"t":8,"s":0.9,"g":"High risk(n=142)"},{"t":9.5,"s":0.86,"g":"High risk(n=142)"},{"t":11,"s":0.82,"g":"High risk(n=142)"},{"t":13,"s":0.8,"g":"High risk(n=142)"},{"t":15,"s":0.78,"g":"High risk(n=142)"},{"t":16.5,"s":0.75,"g":"High risk(n=142)"},{"t":18,"s":0.72,"g":"High risk(n=142)"},{"t":20,"s":0.7,"g":"High risk(n=142)"},{"t":23,"s":0.68,"g":"High risk(n=142)"},{"t":26,"s":0.66,"g":"High risk(n=142)"},{"t":30,"s":0.64,"g":"High risk(n=142)"},{"t":33,"s":0.62,"g":"High risk(n=142)"},{"t":35,"s":0.59,"g":"High risk(n=142)"},{"t":38,"s":0.575,"g":"High risk(n=142)"},{"t":40,"s":0.56,"g":"High risk(n=142)"},{"t":44,"s":0.545,"g":"High risk(n=142)"},{"t":47,"s":0.54,"g":"High risk(n=142)"},{"t":55,"s":0.515,"g":"High risk(n=142)"},{"t":83,"s":0.515,"g":"High risk(n=142)"}
    ],
    "kmFc": [
      {"t":2,"s":1,"g":"Low risk(n=143)"},{"t":4,"s":1,"g":"Low risk(n=143)"},{"t":14,"s":0.95,"g":"Low risk(n=143)"},{"t":18,"s":0.93,"g":"Low risk(n=143)"},{"t":22,"s":0.915,"g":"Low risk(n=143)"},{"t":27,"s":0.905,"g":"Low risk(n=143)"},{"t":31,"s":0.89,"g":"Low risk(n=143)"},{"t":35,"s":0.87,"g":"Low risk(n=143)"},{"t":42,"s":0.83,"g":"Low risk(n=143)"},{"t":45,"s":0.83,"g":"Low risk(n=143)"},{"t":48,"s":0.83,"g":"Low risk(n=143)"},{"t":51,"s":0.83,"g":"Low risk(n=143)"},{"t":54,"s":0.83,"g":"Low risk(n=143)"},{"t":57,"s":0.83,"g":"Low risk(n=143)"},{"t":60,"s":0.83,"g":"Low risk(n=143)"},{"t":63,"s":0.83,"g":"Low risk(n=143)"},{"t":70,"s":0.727,"g":"Low risk(n=143)"},{"t":74,"s":0.727,"g":"Low risk(n=143)"},{"t":81,"s":0.727,"g":"Low risk(n=143)"},{"t":88,"s":0.727,"g":"Low risk(n=143)"},{"t":95,"s":0.727,"g":"Low risk(n=143)"},{"t":100,"s":0.727,"g":"Low risk(n=143)"},
      {"t":22,"s":0.7,"g":"High risk(n=142)"},{"t":25,"s":0.68,"g":"High risk(n=142)"},{"t":28,"s":0.66,"g":"High risk(n=142)"},{"t":32,"s":0.64,"g":"High risk(n=142)"},{"t":36,"s":0.59,"g":"High risk(n=142)"},{"t":42,"s":0.56,"g":"High risk(n=142)"},{"t":46,"s":0.545,"g":"High risk(n=142)"},{"t":49,"s":0.54,"g":"High risk(n=142)"},{"t":52,"s":0.54,"g":"High risk(n=142)"},{"t":56,"s":0.515,"g":"High risk(n=142)"},{"t":58,"s":0.515,"g":"High risk(n=142)"},{"t":60,"s":0.515,"g":"High risk(n=142)"},{"t":62,"s":0.515,"g":"High risk(n=142)"},{"t":65,"s":0.515,"g":"High risk(n=142)"},{"t":68,"s":0.515,"g":"High risk(n=142)"},{"t":72,"s":0.515,"g":"High risk(n=142)"},{"t":75,"s":0.515,"g":"High risk(n=142)"},{"t":80,"s":0.515,"g":"High risk(n=142)"},{"t":83,"s":0.515,"g":"High risk(n=142)"}
    ],
    "tabA": [
      {"row":"Low risk(n=351)","t":0,"n":351},{"row":"Low risk(n=351)","t":20,"n":310},{"row":"Low risk(n=351)","t":40,"n":210},{"row":"Low risk(n=351)","t":60,"n":69},{"row":"Low risk(n=351)","t":80,"n":17},{"row":"Low risk(n=351)","t":100,"n":1},{"row":"Low risk(n=351)","t":120,"n":0},
      {"row":"High risk(n=350)","t":0,"n":350},{"row":"High risk(n=350)","t":20,"n":293},{"row":"High risk(n=350)","t":40,"n":196},{"row":"High risk(n=350)","t":60,"n":48},{"row":"High risk(n=350)","t":80,"n":12},{"row":"High risk(n=350)","t":100,"n":0},{"row":"High risk(n=350)","t":120,"n":0}
    ],
    "tabB": [
      {"row":"Low risk(n=351)","t":0,"n":351},{"row":"Low risk(n=351)","t":20,"n":298},{"row":"Low risk(n=351)","t":40,"n":213},{"row":"Low risk(n=351)","t":60,"n":62},{"row":"Low risk(n=351)","t":80,"n":19},{"row":"Low risk(n=351)","t":100,"n":1},{"row":"Low risk(n=351)","t":120,"n":0},
      {"row":"High risk(n=350)","t":0,"n":350},{"row":"High risk(n=350)","t":20,"n":252},{"row":"High risk(n=350)","t":40,"n":156},{"row":"High risk(n=350)","t":60,"n":43},{"row":"High risk(n=350)","t":80,"n":8},{"row":"High risk(n=350)","t":100,"n":0},{"row":"High risk(n=350)","t":120,"n":0}
    ]
  },
  "spacing": 13,
  "resolve": {"scale": {"x": "independent", "y": "independent", "color": "independent"}, "legend": {"color": "independent"}},
  "vconcat": [
    {
      "spacing": 14,
      "resolve": {"scale": {"x": "independent", "y": "independent", "color": "independent"}, "legend": {"color": "independent"}},
      "vconcat": [
        {
          "title": {"text": "A. Death specific Radiomics Signature", "anchor": "start", "fontSize": 16, "offset": 12, "dx": 0},
          "bounds": "flush",
          "spacing": 49,
          "resolve": {"scale": {"x": "independent", "y": "independent", "color": "independent"}, "legend": {"color": "independent"}},
          "hconcat": [
            {
              "width": 166, "height": 143,
              "title": {"text": "Risk score for every patient", "fontSize": 10.7, "offset": 3.5},
              "layer": [
                {"data": {"name": "riskA"}, "mark": {"type": "area", "color": "#2e5fae"},
                 "encoding": {
                   "x": {"field": "rank", "type": "quantitative", "scale": {"domain": [0, 701], "nice": false, "zero": false}, "axis": null},
                   "y": {"field": "score", "type": "quantitative", "scale": {"domain": [-0.2, 0.8], "nice": false}, "axis": {"title": "death risk score", "values": [-0.2, 0, 0.2, 0.4, 0.6, 0.8], "format": ".1f", "tickCount": 20, "labelOverlap": false, "labelFontSize": 6.5, "titleFontSize": 10.5, "tickSize": 4, "labelPadding": 5, "titlePadding": 4.35}},
                   "y2": {"datum": 0}}},
                {"data": {"name": "riskAev"}, "mark": {"type": "rule", "strokeWidth": 0.8, "opacity": 0.8},
                 "encoding": {
                   "x": {"field": "rank", "type": "quantitative"},
                   "y": {"field": "score", "type": "quantitative"},
                   "y2": {"datum": 0},
                   "color": {"field": "status", "type": "nominal", "scale": {"domain": ["Death", "Live"], "range": ["#ee1d23", "#2b3990"]},
                     "legend": {"orient": "none", "legendX": 106.7, "legendY": 8, "title": null, "symbolType": "M-16,0H1", "symbolSize": 16, "symbolStrokeWidth": 3.5, "labelFontSize": 9, "labelOffset": 2.2, "rowPadding": 1.7}}}}
              ]
            },
            {
              "width": 179, "height": 142.5,
              "title": {"text": "Time dependent ROC", "fontSize": 10.7, "offset": 8},
              "layer": [
                {"data": {"name": "rocA"}, "mark": {"type": "line", "interpolate": "step-after", "strokeWidth": 1.3},
                 "encoding": {
                   "x": {"field": "fpr", "type": "quantitative", "scale": {"domain": [-0.04, 1.058], "nice": false, "zero": false}, "axis": {"title": null, "values": [0, 0.2, 0.4, 0.6, 0.8, 1], "format": ".1f", "tickCount": 20, "labelOverlap": false, "labelFontSize": 6.5, "tickSize": 3, "labelPadding": 2}},
                   "y": {"field": "tpr", "type": "quantitative", "scale": {"domain": [-0.07, 1.04], "nice": false, "zero": false}, "axis": {"title": "True Positive Rate", "values": [0, 0.2, 0.4, 0.6, 0.8, 1], "format": ".1f", "tickCount": 20, "labelOverlap": false, "labelFontSize": 6.5, "titleFontSize": 10, "tickSize": 3, "labelPadding": 2, "titlePadding": 8}},
                   "color": {"field": "c", "type": "nominal", "scale": {"domain": ["AUC at 1 year\u00a0 0.749(0.705-0.793)", "AUC at 3 year\u00a0 0.724(0.710-0.738)", "AUC at 5 year\u00a0 0.768(0.736-0.800)"], "range": ["#ee2024", "#2a4ea5", "#5cbb3a"]},
                     "legend": {"orient": "none", "legendX": 65.4, "legendY": 100, "title": null, "symbolType": "M-7,0H1", "symbolSize": 16, "symbolStrokeWidth": 1.5, "labelFontSize": 6.6, "labelFontWeight": "bold", "labelOffset": 4, "rowPadding": 4.4}}}},
                {"data": {"values": [{}]}, "mark": {"type": "rule", "color": "#000", "strokeWidth": 1.2},
                 "encoding": {"x": {"datum": 0}, "y": {"datum": 0}, "x2": {"datum": 1.04}, "y2": {"datum": 1.04}}}
              ]
            },
            {
              "width": 168, "height": 140,
              "title": {"text": "Survival Curve", "fontSize": 10.7, "offset": 4.2},
              "layer": [
                {"data": {"name": "kmA"}, "mark": {"type": "line", "interpolate": "step-after", "strokeWidth": 2.2},
                 "encoding": {
                   "x": {"field": "t", "type": "quantitative", "scale": {"domain": [0, 124.8], "nice": false, "zero": false}, "axis": {"title": "Time (months)", "values": [0, 20, 40, 60, 80, 100, 120], "tickCount": 20, "labelOverlap": false, "labelFontSize": 6.5, "titleFontSize": 10.5, "tickSize": 3, "labelPadding": 5, "titlePadding": 2}},
                   "y": {"field": "s", "type": "quantitative", "scale": {"domain": [-0.04, 1.005], "nice": false, "zero": false}, "axis": {"title": "Overall survival", "values": [0, 0.2, 0.4, 0.6, 0.8, 1], "format": ".1f", "tickCount": 20, "labelOverlap": false, "labelFontSize": 6.5, "titleFontSize": 10.5, "tickSize": 3, "labelPadding": 5, "titlePadding": 1.75}},
                   "color": {"field": "g", "type": "nominal", "scale": {"domain": ["Low risk(n=351)", "High risk(n=350)"], "range": ["#2553a5", "#ee2024"]},
                     "legend": {"orient": "none", "legendX": 103, "legendY": 125, "title": null, "symbolType": "M-8,0H0.5", "symbolSize": 16, "symbolStrokeWidth": 2, "labelFontSize": 5.7, "labelOffset": 0, "rowPadding": 0}}}},
                {"data": {"name": "kmAc"}, "mark": {"type": "tick", "orient": "vertical", "size": 4, "thickness": 1},
                 "encoding": {"x": {"field": "t", "type": "quantitative"}, "y": {"field": "s", "type": "quantitative"}, "color": {"field": "g", "type": "nominal", "legend": null}}},
                {"data": {"values": [{"t": 11, "s": 0.36, "p": "P", "rest": "< .001"}]}, "mark": {"type": "text", "align": "left", "baseline": "middle", "fontSize": 9, "fontWeight": "bold", "fontStyle": "italic"},
                 "encoding": {"x": {"field": "t", "type": "quantitative"}, "y": {"field": "s", "type": "quantitative"}, "text": {"field": "p"}}},
                {"data": {"values": [{"t": 11, "s": 0.36, "p": "P", "rest": "< .001"}]}, "mark": {"type": "text", "align": "left", "baseline": "middle", "fontSize": 9, "fontWeight": "bold", "dx": 8},
                 "encoding": {"x": {"field": "t", "type": "quantitative"}, "y": {"field": "s", "type": "quantitative"}, "text": {"field": "rest"}}},
                {"data": {"values": [{"t": 0, "label": "No. At Risk"}]}, "mark": {"type": "text", "align": "right", "baseline": "middle", "fontSize": 7, "fontWeight": "bold", "dx": 2},
                 "encoding": {"x": {"field": "t", "type": "quantitative"}, "y": {"datum": -0.253}, "text": {"field": "label"}}},
                {"data": {"values": [{"t": 0, "label": "Low risk(n=351)"}]}, "mark": {"type": "text", "align": "right", "baseline": "middle", "fontSize": 6.7, "dx": -7},
                 "encoding": {"x": {"field": "t", "type": "quantitative"}, "y": {"datum": -0.313}, "text": {"field": "label"}}},
                {"data": {"values": [{"t": 0, "label": "High risk(n=350)"}]}, "mark": {"type": "text", "align": "right", "baseline": "middle", "fontSize": 6.7, "dx": -7},
                 "encoding": {"x": {"field": "t", "type": "quantitative"}, "y": {"datum": -0.375}, "text": {"field": "label"}}},
                {"data": {"name": "tabA"}, "transform": [{"filter": "datum.row == 'Low risk(n=351)'"}], "mark": {"type": "text", "align": "center", "baseline": "middle", "fontSize": 6.7},
                 "encoding": {"x": {"field": "t", "type": "quantitative"}, "y": {"datum": -0.313}, "text": {"field": "n", "type": "quantitative"}}},
                {"data": {"name": "tabA"}, "transform": [{"filter": "datum.row == 'High risk(n=350)'"}], "mark": {"type": "text", "align": "center", "baseline": "middle", "fontSize": 6.7},
                 "encoding": {"x": {"field": "t", "type": "quantitative"}, "y": {"datum": -0.375}, "text": {"field": "n", "type": "quantitative"}}}
              ]
            }
          ]
        },
        {
          "title": {"text": "B. Relapse specific Radiomics Signature", "anchor": "start", "fontSize": 16, "offset": 8, "dx": 0.5},
          "bounds": "flush",
          "spacing": 49,
          "resolve": {"scale": {"x": "independent", "y": "independent", "color": "independent"}, "legend": {"color": "independent"}},
          "hconcat": [
            {
              "width": 167, "height": 150,
              "title": {"text": "Risk score for every patient", "fontSize": 10.7, "offset": -1.6},
              "layer": [
                {"data": {"name": "riskB"}, "mark": {"type": "area", "color": "#2e5fae"},
                 "encoding": {
                   "x": {"field": "rank", "type": "quantitative", "scale": {"domain": [0, 701], "nice": false, "zero": false}, "axis": null},
                   "y": {"field": "score", "type": "quantitative", "scale": {"domain": [-0.2, 0.8], "nice": false}, "axis": {"title": "Relapse risk score", "values": [-0.2, 0, 0.2, 0.4, 0.6, 0.8], "format": ".1f", "tickCount": 20, "labelOverlap": false, "labelFontSize": 6.5, "titleFontSize": 10.5, "tickSize": 4, "labelPadding": 3.5, "titlePadding": 6.25}},
                   "y2": {"datum": 0}}},
                {"data": {"name": "riskBev"}, "mark": {"type": "rule", "strokeWidth": 0.8, "opacity": 0.8},
                 "encoding": {
                   "x": {"field": "rank", "type": "quantitative"},
                   "y": {"field": "score", "type": "quantitative"},
                   "y2": {"datum": 0},
                   "color": {"field": "status", "type": "nominal", "scale": {"domain": ["Relapse", "No Relapse"], "range": ["#ee1d23", "#2b3990"]},
                     "legend": {"orient": "none", "legendX": 98.4, "legendY": 8.6, "title": null, "symbolType": "M-16,0H1", "symbolSize": 16, "symbolStrokeWidth": 3.5, "labelFontSize": 9, "labelOffset": 2.5, "rowPadding": 1.4}}}}
              ]
            },
            {
              "width": 182, "height": 149.3,
              "title": {"text": "Time dependent ROC", "fontSize": 10.7, "offset": 2.3},
              "layer": [
                {"data": {"name": "rocB"}, "mark": {"type": "line", "interpolate": "step-after", "strokeWidth": 1.3},
                 "encoding": {
                   "x": {"field": "fpr", "type": "quantitative", "scale": {"domain": [-0.04, 1.077], "nice": false, "zero": false}, "axis": {"title": null, "values": [0, 0.2, 0.4, 0.6, 0.8, 1], "format": ".1f", "tickCount": 20, "labelOverlap": false, "labelFontSize": 6.5, "tickSize": 3, "labelPadding": 2}},
                   "y": {"field": "tpr", "type": "quantitative", "scale": {"domain": [-0.054, 1.089], "nice": false, "zero": false}, "axis": {"title": "True Positive Rate", "values": [0, 0.2, 0.4, 0.6, 0.8, 1], "format": ".1f", "tickCount": 20, "labelOverlap": false, "labelFontSize": 6.5, "titleFontSize": 10, "tickSize": 3, "labelPadding": 2, "titlePadding": 9}},
                   "color": {"field": "c", "type": "nominal", "scale": {"domain": ["AUC at 1 year\u00a0 0.690(0.647-0.733)", "AUC at 3 year\u00a0 0.733(0.712-0.754)", "AUC at 5 year\u00a0 0.744(0.722-0.744)"], "range": ["#ee2024", "#2a4ea5", "#5cbb3a"]},
                     "legend": {"orient": "none", "legendX": 67.6, "legendY": 109.3, "title": null, "symbolType": "M-7,0H1", "symbolSize": 16, "symbolStrokeWidth": 1.5, "labelFontSize": 6.7, "labelFontWeight": "bold", "labelOffset": 2.4, "rowPadding": 4.3}}}},
                {"data": {"values": [{}]}, "mark": {"type": "rule", "color": "#000", "strokeWidth": 1.2},
                 "encoding": {"x": {"datum": 0}, "y": {"datum": 0}, "x2": {"datum": 1.04}, "y2": {"datum": 1.04}}}
              ]
            },
            {
              "width": 161, "height": 153.3,
              "title": {"text": "Survival Curve", "fontSize": 10.7, "offset": 3},
              "layer": [
                {"data": {"name": "kmB"}, "mark": {"type": "line", "interpolate": "step-after", "strokeWidth": 2.2},
                 "encoding": {
                   "x": {"field": "t", "type": "quantitative", "scale": {"domain": [0, 124.8], "nice": false, "zero": false}, "axis": {"title": "Time (months)", "values": [0, 20, 40, 60, 80, 100, 120], "tickCount": 20, "labelOverlap": false, "labelFontSize": 6.5, "titleFontSize": 10.5, "tickSize": 3, "labelPadding": 5, "titlePadding": 2}},
                   "y": {"field": "s", "type": "quantitative", "scale": {"domain": [-0.037, 1.085], "nice": false, "zero": false}, "axis": {"title": "Relapse free survival", "values": [0, 0.2, 0.4, 0.6, 0.8, 1], "format": ".1f", "tickCount": 20, "labelOverlap": false, "labelFontSize": 6.5, "titleFontSize": 10.5, "tickSize": 3, "labelPadding": 9.5, "titlePadding": 1.25}},
                   "color": {"field": "g", "type": "nominal", "scale": {"domain": ["Low risk(n=351)", "High risk(n=350)"], "range": ["#2553a5", "#ee2024"]},
                     "legend": {"orient": "none", "legendX": 97.7, "legendY": 135.9, "title": null, "symbolType": "M-8,0H0.5", "symbolSize": 16, "symbolStrokeWidth": 2, "labelFontSize": 5.7, "labelOffset": 0, "rowPadding": 0}}}},
                {"data": {"name": "kmBc"}, "mark": {"type": "tick", "orient": "vertical", "size": 4, "thickness": 1},
                 "encoding": {"x": {"field": "t", "type": "quantitative"}, "y": {"field": "s", "type": "quantitative"}, "color": {"field": "g", "type": "nominal", "legend": null}}},
                {"data": {"values": [{"t": 11.6, "s": 0.366, "p": "P", "rest": "< .001"}]}, "mark": {"type": "text", "align": "left", "baseline": "middle", "fontSize": 9, "fontWeight": "bold", "fontStyle": "italic"},
                 "encoding": {"x": {"field": "t", "type": "quantitative"}, "y": {"field": "s", "type": "quantitative"}, "text": {"field": "p"}}},
                {"data": {"values": [{"t": 11.6, "s": 0.366, "p": "P", "rest": "< .001"}]}, "mark": {"type": "text", "align": "left", "baseline": "middle", "fontSize": 9, "fontWeight": "bold", "dx": 8},
                 "encoding": {"x": {"field": "t", "type": "quantitative"}, "y": {"field": "s", "type": "quantitative"}, "text": {"field": "rest"}}},
                {"data": {"values": [{"t": 0, "label": "No. At Risk"}]}, "mark": {"type": "text", "align": "right", "baseline": "middle", "fontSize": 7, "fontWeight": "bold", "dx": -9},
                 "encoding": {"x": {"field": "t", "type": "quantitative"}, "y": {"datum": -0.225}, "text": {"field": "label"}}},
                {"data": {"values": [{"t": 0, "label": "Low risk(n=351)"}]}, "mark": {"type": "text", "align": "right", "baseline": "middle", "fontSize": 6.7, "dx": -7},
                 "encoding": {"x": {"field": "t", "type": "quantitative"}, "y": {"datum": -0.306}, "text": {"field": "label"}}},
                {"data": {"values": [{"t": 0, "label": "High risk(n=350)"}]}, "mark": {"type": "text", "align": "right", "baseline": "middle", "fontSize": 6.7, "dx": -6},
                 "encoding": {"x": {"field": "t", "type": "quantitative"}, "y": {"datum": -0.367}, "text": {"field": "label"}}},
                {"data": {"name": "tabB"}, "transform": [{"filter": "datum.row == 'Low risk(n=351)'"}], "mark": {"type": "text", "align": "center", "baseline": "middle", "fontSize": 6.7},
                 "encoding": {"x": {"field": "t", "type": "quantitative"}, "y": {"datum": -0.306}, "text": {"field": "n", "type": "quantitative"}}},
                {"data": {"name": "tabB"}, "transform": [{"filter": "datum.row == 'High risk(n=350)'"}], "mark": {"type": "text", "align": "center", "baseline": "middle", "fontSize": 6.7},
                 "encoding": {"x": {"field": "t", "type": "quantitative"}, "y": {"datum": -0.367}, "text": {"field": "n", "type": "quantitative"}}}
              ]
            }
          ]
        }
      ]
    },
    {
      "spacing": 7,
      "resolve": {"scale": {"x": "independent", "y": "independent", "color": "independent"}, "legend": {"color": "independent"}},
      "vconcat": [
        {
          "bounds": "flush",
          "spacing": 122.3,
          "resolve": {"scale": {"x": "independent", "y": "independent", "color": "independent"}, "legend": {"color": "independent"}},
          "hconcat": [
            {
              "width": 246, "height": 217,
              "title": {"text": "C. Stage: II", "anchor": "start", "frame": "bounds", "fontSize": 16, "offset": 7, "dx": 5},
              "layer": [
                {"data": {"name": "kmC"}, "mark": {"type": "line", "interpolate": "step-after", "strokeWidth": 2.8},
                 "encoding": {
                   "x": {"field": "t", "type": "quantitative", "scale": {"domain": [0, 124.4], "nice": false, "zero": false}, "axis": {"title": "Time (months)", "values": [0, 20, 40, 60, 80, 100, 120], "tickCount": 20, "labelOverlap": false, "labelFontSize": 8, "titleFontSize": 13, "tickSize": 4, "labelPadding": 6, "titlePadding": 6}},
                   "y": {"field": "s", "type": "quantitative", "scale": {"domain": [-0.04, 1.04], "nice": false, "zero": false}, "axis": {"title": "Overall survival", "values": [0, 0.2, 0.4, 0.6, 0.8, 1], "format": ".1f", "tickCount": 20, "labelOverlap": false, "labelFontSize": 8, "titleFontSize": 13, "tickSize": 4, "labelPadding": 5, "titlePadding": 7.9}},
                   "color": {"field": "g", "type": "nominal", "scale": {"domain": ["Low risk(n=168)", "High risk(n=167)"], "range": ["#2553a5", "#ee2024"]},
                     "legend": {"orient": "none", "legendX": 136.5, "legendY": 174.6, "title": null, "symbolType": "M-7,0H1", "symbolSize": 16, "symbolStrokeWidth": 3, "labelFontSize": 10.5, "labelOffset": 1.75, "rowPadding": 0}}}},
                {"data": {"name": "kmCc"}, "mark": {"type": "tick", "orient": "vertical", "size": 6, "thickness": 1.2},
                 "encoding": {"x": {"field": "t", "type": "quantitative"}, "y": {"field": "s", "type": "quantitative"}, "color": {"field": "g", "type": "nominal", "legend": null}}},
                {"data": {"values": [{"t": 12.1, "s": 0.386, "p": "P", "rest": "= .02"}]}, "mark": {"type": "text", "align": "left", "baseline": "middle", "fontSize": 13, "fontWeight": "bold", "fontStyle": "italic"},
                 "encoding": {"x": {"field": "t", "type": "quantitative"}, "y": {"field": "s", "type": "quantitative"}, "text": {"field": "p"}}},
                {"data": {"values": [{"t": 12.1, "s": 0.386, "p": "P", "rest": "= .02"}]}, "mark": {"type": "text", "align": "left", "baseline": "middle", "fontSize": 13, "fontWeight": "bold", "dx": 11},
                 "encoding": {"x": {"field": "t", "type": "quantitative"}, "y": {"field": "s", "type": "quantitative"}, "text": {"field": "rest"}}}
              ]
            },
            {
              "width": 245, "height": 217,
              "title": {"text": "D. Stage: II", "anchor": "start", "frame": "bounds", "fontSize": 16, "offset": 7, "dx": -20},
              "layer": [
                {"data": {"name": "kmD"}, "mark": {"type": "line", "interpolate": "step-after", "strokeWidth": 2.8},
                 "encoding": {
                   "x": {"field": "t", "type": "quantitative", "scale": {"domain": [0, 124.8], "nice": false, "zero": false}, "axis": {"title": "Time (months)", "values": [0, 20, 40, 60, 80, 100, 120], "tickCount": 20, "labelOverlap": false, "labelFontSize": 8, "titleFontSize": 13, "tickSize": 4, "labelPadding": 6, "titlePadding": 6}},
                   "y": {"field": "s", "type": "quantitative", "scale": {"domain": [-0.04, 1.04], "nice": false, "zero": false}, "axis": {"title": "Relapse free survival", "values": [0, 0.2, 0.4, 0.6, 0.8, 1], "format": ".1f", "tickCount": 20, "labelOverlap": false, "labelFontSize": 8, "titleFontSize": 13, "tickSize": 4, "labelPadding": 5, "titlePadding": 7.6}},
                   "color": {"field": "g", "type": "nominal", "scale": {"domain": ["Low risk(n=168)", "High risk(n=167)"], "range": ["#2553a5", "#ee2024"]},
                     "legend": {"orient": "none", "legendX": 140.45, "legendY": 176.3, "title": null, "symbolType": "M-7,0H1", "symbolSize": 16, "symbolStrokeWidth": 3, "labelFontSize": 10.5, "labelOffset": 1.05, "rowPadding": 0}}}},
                {"data": {"name": "kmDc"}, "mark": {"type": "tick", "orient": "vertical", "size": 6, "thickness": 1.2},
                 "encoding": {"x": {"field": "t", "type": "quantitative"}, "y": {"field": "s", "type": "quantitative"}, "color": {"field": "g", "type": "nominal", "legend": null}}},
                {"data": {"values": [{"t": 10.7, "s": 0.394, "p": "P", "rest": "= .018"}]}, "mark": {"type": "text", "align": "left", "baseline": "middle", "fontSize": 13, "fontWeight": "bold", "fontStyle": "italic"},
                 "encoding": {"x": {"field": "t", "type": "quantitative"}, "y": {"field": "s", "type": "quantitative"}, "text": {"field": "p"}}},
                {"data": {"values": [{"t": 10.7, "s": 0.394, "p": "P", "rest": "= .018"}]}, "mark": {"type": "text", "align": "left", "baseline": "middle", "fontSize": 13, "fontWeight": "bold", "dx": 11},
                 "encoding": {"x": {"field": "t", "type": "quantitative"}, "y": {"field": "s", "type": "quantitative"}, "text": {"field": "rest"}}}
              ]
            }
          ]
        },
        {
          "bounds": "flush",
          "spacing": 113.3,
          "resolve": {"scale": {"x": "independent", "y": "independent", "color": "independent"}, "legend": {"color": "independent"}},
          "hconcat": [
            {
              "width": 255, "height": 226,
              "title": {"text": "E. Stage: III", "anchor": "start", "frame": "bounds", "fontSize": 16, "offset": 3, "dx": 2},
              "layer": [
                {"data": {"name": "kmE"}, "mark": {"type": "line", "interpolate": "step-after", "strokeWidth": 2.8},
                 "encoding": {
                   "x": {"field": "t", "type": "quantitative", "scale": {"domain": [0, 124.9], "nice": false, "zero": false}, "axis": {"title": "Time (months)", "values": [0, 20, 40, 60, 80, 100, 120], "tickCount": 20, "labelOverlap": false, "labelFontSize": 8, "titleFontSize": 13, "tickSize": 4, "labelPadding": 6, "titlePadding": 9}},
                   "y": {"field": "s", "type": "quantitative", "scale": {"domain": [-0.04, 1.04], "nice": false, "zero": false}, "axis": {"title": "Overall survival", "values": [0, 0.2, 0.4, 0.6, 0.8, 1], "format": ".1f", "tickCount": 20, "labelOverlap": false, "labelFontSize": 8, "titleFontSize": 13, "tickSize": 4, "labelPadding": 5, "titlePadding": 6}},
                   "color": {"field": "g", "type": "nominal", "scale": {"domain": ["Low risk(n=143)", "High risk(n=142)"], "range": ["#2553a5", "#ee2024"]},
                     "legend": {"orient": "none", "legendX": 140.65, "legendY": 182.3, "title": null, "symbolType": "M-7,0H1", "symbolSize": 16, "symbolStrokeWidth": 3.5, "labelFontSize": 10.5, "labelOffset": 2.45, "rowPadding": 4.3}}}},
                {"data": {"name": "kmEc"}, "mark": {"type": "tick", "orient": "vertical", "size": 6, "thickness": 1.2},
                 "encoding": {"x": {"field": "t", "type": "quantitative"}, "y": {"field": "s", "type": "quantitative"}, "color": {"field": "g", "type": "nominal", "legend": null}}},
                {"data": {"values": [{"t": 11, "s": 0.387, "p": "P", "rest": "< .001"}]}, "mark": {"type": "text", "align": "left", "baseline": "middle", "fontSize": 13, "fontWeight": "bold", "fontStyle": "italic"},
                 "encoding": {"x": {"field": "t", "type": "quantitative"}, "y": {"field": "s", "type": "quantitative"}, "text": {"field": "p"}}},
                {"data": {"values": [{"t": 11, "s": 0.387, "p": "P", "rest": "< .001"}]}, "mark": {"type": "text", "align": "left", "baseline": "middle", "fontSize": 13, "fontWeight": "bold", "dx": 11},
                 "encoding": {"x": {"field": "t", "type": "quantitative"}, "y": {"field": "s", "type": "quantitative"}, "text": {"field": "rest"}}}
              ]
            },
            {
              "width": 251, "height": 222,
              "title": {"text": "F. Stage: III", "anchor": "start", "frame": "bounds", "fontSize": 16, "offset": 3, "dx": -20},
              "layer": [
                {"data": {"name": "kmF"}, "mark": {"type": "line", "interpolate": "step-after", "strokeWidth": 2.8},
                 "encoding": {
                   "x": {"field": "t", "type": "quantitative", "scale": {"domain": [0, 125], "nice": false, "zero": false}, "axis": {"title": "Time (months)", "values": [0, 20, 40, 60, 80, 100, 120], "tickCount": 20, "labelOverlap": false, "labelFontSize": 8, "titleFontSize": 13, "tickSize": 4, "labelPadding": 6, "titlePadding": 9}},
                   "y": {"field": "s", "type": "quantitative", "scale": {"domain": [-0.04, 1.04], "nice": false, "zero": false}, "axis": {"title": "Relapse free survival", "values": [0, 0.2, 0.4, 0.6, 0.8, 1], "format": ".1f", "tickCount": 20, "labelOverlap": false, "labelFontSize": 8, "titleFontSize": 13, "tickSize": 4, "labelPadding": 5, "titlePadding": 7.6}},
                   "color": {"field": "g", "type": "nominal", "scale": {"domain": ["Low risk(n=143)", "High risk(n=142)"], "range": ["#2553a5", "#ee2024"]},
                     "legend": {"orient": "none", "legendX": 143.15, "legendY": 179.6, "title": null, "symbolType": "M-7,0H1", "symbolSize": 16, "symbolStrokeWidth": 3.5, "labelFontSize": 10.5, "labelOffset": 2.35, "rowPadding": 5}}}},
                {"data": {"name": "kmFc"}, "mark": {"type": "tick", "orient": "vertical", "size": 6, "thickness": 1.2},
                 "encoding": {"x": {"field": "t", "type": "quantitative"}, "y": {"field": "s", "type": "quantitative"}, "color": {"field": "g", "type": "nominal", "legend": null}}},
                {"data": {"values": [{"t": 14.3, "s": 0.377, "p": "P", "rest": "< .001"}]}, "mark": {"type": "text", "align": "left", "baseline": "middle", "fontSize": 13, "fontWeight": "bold", "fontStyle": "italic"},
                 "encoding": {"x": {"field": "t", "type": "quantitative"}, "y": {"field": "s", "type": "quantitative"}, "text": {"field": "p"}}},
                {"data": {"values": [{"t": 14.3, "s": 0.377, "p": "P", "rest": "< .001"}]}, "mark": {"type": "text", "align": "left", "baseline": "middle", "fontSize": 13, "fontWeight": "bold", "dx": 11},
                 "encoding": {"x": {"field": "t", "type": "quantitative"}, "y": {"field": "s", "type": "quantitative"}, "text": {"field": "rest"}}}
              ]
            }
          ]
        }
      ]
    }
  ]
}
